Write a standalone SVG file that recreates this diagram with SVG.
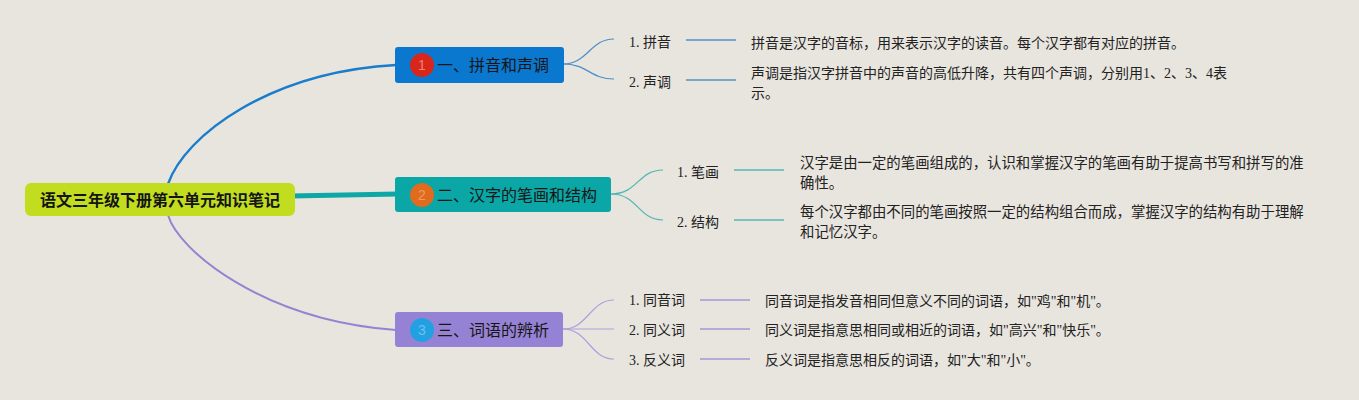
<svg xmlns="http://www.w3.org/2000/svg" width="1359" height="400" viewBox="0 0 1359 400">
<style>
.bg{fill:#e8e5de}
.root-box{fill:#c2dd1f}
.root-txt{font-family:"Noto Sans CJK SC","Noto Sans",sans-serif;font-size:16px;font-weight:bold;fill:#141414}
.topic-txt{font-family:"Noto Sans CJK SC","Noto Sans",sans-serif;font-size:16px;fill:#161616}
.badge-num{font-family:"Liberation Sans","Noto Sans",sans-serif;font-size:14px;text-anchor:middle}
.sub{font-family:"Liberation Serif","Noto Sans CJK SC",serif;font-size:14px;fill:#222}
.desc{font-family:"Liberation Serif","Noto Sans CJK SC",serif;font-size:14px;fill:#222}
.desc-w{font-size:14.4px}
.c1{stroke:#4a8ecb;fill:none;stroke-width:1.2}
.c2{stroke:#4fb6b6;fill:none;stroke-width:1.2}
.c3{stroke:#ad9fdc;fill:none;stroke-width:1.2}
.l1{stroke:#77a6cd;stroke-width:2}
.l2{stroke:#79c2c2;stroke-width:2}
.l3{stroke:#b6aad8;stroke-width:2}
</style>
<rect class="bg" x="0" y="0" width="1359" height="400"/>
<g id="connectors">
<path d="M168,184 C185,135 270,72 396,65" stroke="#1a7ccc" stroke-width="2.4" fill="none"/>
<path d="M168,215 C178,250 262,320 396,330" stroke="#9483d2" stroke-width="2" fill="none"/>
<path d="M290,196 L398,194" stroke="#0ea7a7" stroke-width="5" fill="none"/>
<path class="c1" d="M563,64 C588,64 590,39 614,39"/>
<path class="c1" d="M563,64 C588,64 590,79 614,79"/>
<path class="c2" d="M611,194 C638,194 638,170 663,170"/>
<path class="c2" d="M611,194 C638,194 638,220 663,220"/>
<path class="c3" d="M563,329 C588,329 590,300 614,300"/>
<path class="c3" d="M563,329 L614,329"/>
<path class="c3" d="M563,329 C588,329 590,359 614,359"/>
<line class="l1" x1="686" y1="40" x2="736" y2="40"/>
<line class="l1" x1="686" y1="80" x2="736" y2="80"/>
<line class="l2" x1="734" y1="170" x2="784" y2="170"/>
<line class="l2" x1="734" y1="220" x2="784" y2="220"/>
<line class="l3" x1="700" y1="300" x2="750" y2="300"/>
<line class="l3" x1="700" y1="329" x2="750" y2="329"/>
<line class="l3" x1="700" y1="359" x2="750" y2="359"/>
</g>
<g id="root">
<rect class="root-box" x="25" y="183" width="270" height="33" rx="6"/>
<text class="root-txt" x="160" y="206" text-anchor="middle">语文三年级下册第六单元知识笔记</text>
</g>
<g id="topic1">
<rect x="395" y="47" width="169" height="36" rx="3" fill="#0b78cf"/>
<circle cx="422" cy="65" r="12" fill="#d9261b"/>
<text class="badge-num" x="422" y="70" fill="#ee8078">1</text>
<text class="topic-txt" x="437" y="71">一、拼音和声调</text>
</g>
<g id="topic2">
<rect x="395" y="177" width="216" height="35" rx="3" fill="#0ba7a7"/>
<circle cx="422" cy="195" r="12" fill="#e06a1e"/>
<text class="badge-num" x="422" y="200" fill="#f09a60">2</text>
<text class="topic-txt" x="437" y="201">二、汉字的笔画和结构</text>
</g>
<g id="topic3">
<rect x="395" y="312" width="168" height="35" rx="3" fill="#9682d4"/>
<circle cx="422" cy="330" r="12" fill="#23a0e2"/>
<text class="badge-num" x="422" y="335" fill="#6fc0ec">3</text>
<text class="topic-txt" x="437" y="336">三、词语的辨析</text>
</g>
<g id="sub1-1">
<text class="sub" x="629" y="47">1. 拼音</text>
<text class="desc" x="751" y="47.5">拼音是汉字的音标，用来表示汉字的读音。每个汉字都有对应的拼音。</text>
</g>
<g id="sub1-2">
<text class="sub" x="629" y="87">2. 声调</text>
<text class="desc" x="751" y="77.5">声调是指汉字拼音中的声音的高低升降，共有四个声调，分别用1、2、3、4表<tspan x="751" y="98">示。</tspan></text>
</g>
<g id="sub2-1">
<text class="sub" x="677" y="177">1. 笔画</text>
<text class="desc desc-w" x="800" y="167.5">汉字是由一定的笔画组成的，认识和掌握汉字的笔画有助于提高书写和拼写的准<tspan x="800" y="187.5">确性。</tspan></text>
</g>
<g id="sub2-2">
<text class="sub" x="677" y="227">2. 结构</text>
<text class="desc desc-w" x="800" y="217">每个汉字都由不同的笔画按照一定的结构组合而成，掌握汉字的结构有助于理解<tspan x="800" y="237">和记忆汉字。</tspan></text>
</g>
<g id="sub3-1">
<text class="sub" x="629" y="305">1. 同音词</text>
<text class="desc" x="765" y="305.5">同音词是指发音相同但意义不同的词语，如"鸡"和"机"。</text>
</g>
<g id="sub3-2">
<text class="sub" x="629" y="335">2. 同义词</text>
<text class="desc" x="765" y="335">同义词是指意思相同或相近的词语，如"高兴"和"快乐"。</text>
</g>
<g id="sub3-3">
<text class="sub" x="629" y="365">3. 反义词</text>
<text class="desc" x="765" y="365">反义词是指意思相反的词语，如"大"和"小"。</text>
</g>
</svg>
